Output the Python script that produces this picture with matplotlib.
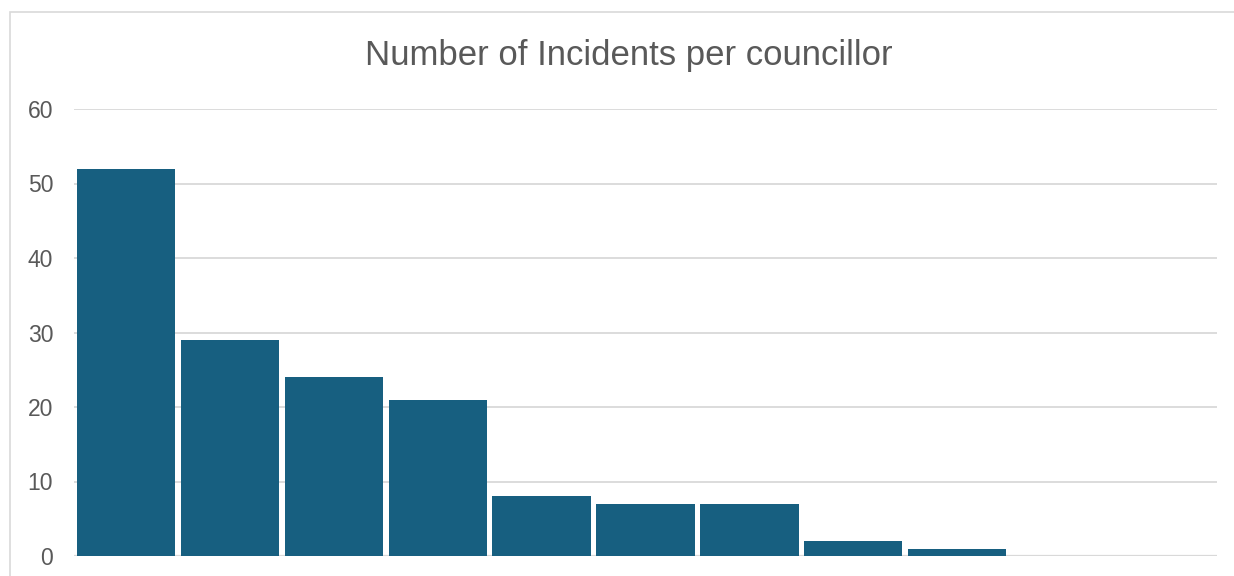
import matplotlib
matplotlib.use("Agg")
import matplotlib.pyplot as plt
from matplotlib.patches import Rectangle

categories = ["C1", "C2", "C3", "C4", "C5", "C6", "C7", "C8", "C9", "C10", "C11"]
incidents = [52, 29, 24, 21, 8, 7, 7, 2, 1, 0, 0]
yticks = [0, 10, 20, 30, 40, 50, 60]
title = "Number of Incidents per councillor"

W, H = 1234, 576
fig = plt.figure(figsize=(W / 100, H / 100), dpi=100)
plt.rcParams['font.family'] = ['Liberation Sans', 'DejaVu Sans']

# chart frame (extends beyond image right/bottom)
fig.patches.append(Rectangle((10.5 / W, -0.1), 1.2, (H - 11.5) / H + 0.1,
                             transform=fig.transFigure, fill=False,
                             edgecolor="#d9d9d9", linewidth=1.2))

ax = fig.add_axes([74 / W, (H - 556) / H, (1217 - 74) / W, (556 - 109) / H])
x = list(range(len(categories)))
ax.bar(x, incidents, width=0.945, color="#175F80", edgecolor="#175F80",
       linewidth=0, zorder=3)
ax.set_xlim(-0.5, len(categories) - 0.5)
ax.set_ylim(0, 60)
ax.set_yticks(yticks)
ax.set_yticklabels([str(v) for v in yticks], fontsize=16.5, color="#595959")
ax.tick_params(axis="y", length=0, pad=15)
ax.set_xticks([])
for s in ax.spines.values():
    s.set_visible(False)
ax.grid(axis="y", color="#d9d9d9", linewidth=1.3, zorder=0)
ax.axhline(0, color="#d9d9d9", linewidth=1.6, zorder=2)
ax.set_facecolor("none")

fig.text(628.5 / W, (H - 55) / H, title, ha="center", va="center",
         fontsize=25, color="#595959")

fig.savefig("out.png", dpi=100)
